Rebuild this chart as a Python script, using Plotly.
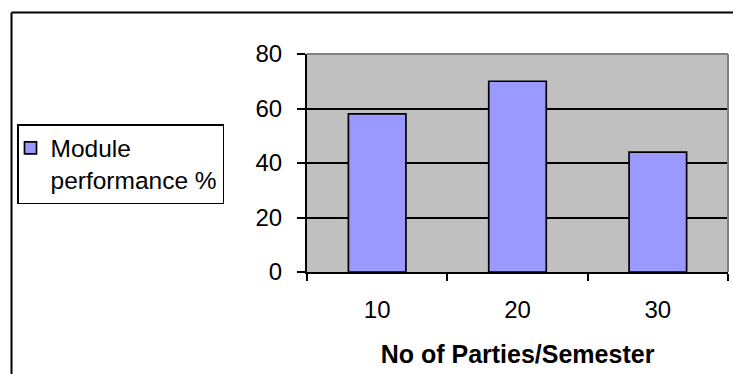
import plotly.graph_objects as go

# Module performance by number of parties per semester
parties = ["10", "20", "30"]
performance = [58, 70, 44]
y_ticks = [0, 20, 40, 60, 80]
series_name = "Module<br>performance %"

FONT = "Arial, Liberation Sans, sans-serif"

fig = go.Figure()
fig.add_trace(go.Bar(
    x=parties,
    y=performance,
    name=series_name,
    marker=dict(color="#9999FF", line=dict(color="black", width=1.7)),
    showlegend=True,
))

W, H = 733, 374
L, R, T, B = 307, 5, 54, 102
pw, ph = W - L - R, H - T - B

def px_x(p):
    return (p - L) / pw

def px_y(p):
    return (H - B - p) / ph

fig.update_layout(
    width=W, height=H,
    margin=dict(l=L, r=R, t=T, b=B, pad=0),
    paper_bgcolor="white",
    plot_bgcolor="#C0C0C0",
    font=dict(family=FONT, size=24, color="black"),
    bargap=0.59,
    showlegend=True,
    legend=dict(
        x=px_x(17), y=px_y(124), xanchor="left", yanchor="top",
        bgcolor="white", bordercolor="black", borderwidth=1.5,
        font=dict(family=FONT, size=24.5, color="black"),
        valign="top", itemwidth=30, indentation=-8,
    ),
    xaxis=dict(
        type="category",
        showline=True, linecolor="black", linewidth=2,
        ticks="outside", tickson="boundaries", ticklen=7,
        tickcolor="black", tickwidth=1.5,
        showgrid=False, zeroline=False,
        ticklabelstandoff=15,
        tickfont=dict(family=FONT, size=24, color="black"),
        title=dict(text="<b>No of Parties/Semester</b>",
                   font=dict(family=FONT, size=25, color="black"),
                   standoff=24),
    ),
    yaxis=dict(
        range=[0, 80], tickvals=y_ticks,
        showline=True, linecolor="black", linewidth=2,
        ticks="outside", ticklen=8, tickcolor="black", tickwidth=1.5,
        showgrid=True, gridcolor="black", gridwidth=1.5,
        zeroline=False,
        ticklabelstandoff=10,
        tickfont=dict(family=FONT, size=24, color="black"),
    ),
    shapes=[
        # plot-area border on the top and right edges
        dict(type="line", xref="paper", yref="paper", x0=0, x1=1, y0=1, y1=1,
             line=dict(color="#808080", width=2), layer="above"),
        dict(type="line", xref="paper", yref="paper", x0=1, x1=1, y0=0, y1=1,
             line=dict(color="#808080", width=2), layer="above"),
        # outer chart frame (left and top edges fall inside the page)
        dict(type="line", xref="paper", yref="paper",
             x0=px_x(11.5), x1=px_x(11.5), y0=px_y(12.5), y1=px_y(400),
             line=dict(color="black", width=2), layer="below"),
        dict(type="line", xref="paper", yref="paper",
             x0=px_x(11.5), x1=px_x(760), y0=px_y(12.5), y1=px_y(12.5),
             line=dict(color="black", width=2), layer="below"),
    ],
)

fig.write_html("out.html")
